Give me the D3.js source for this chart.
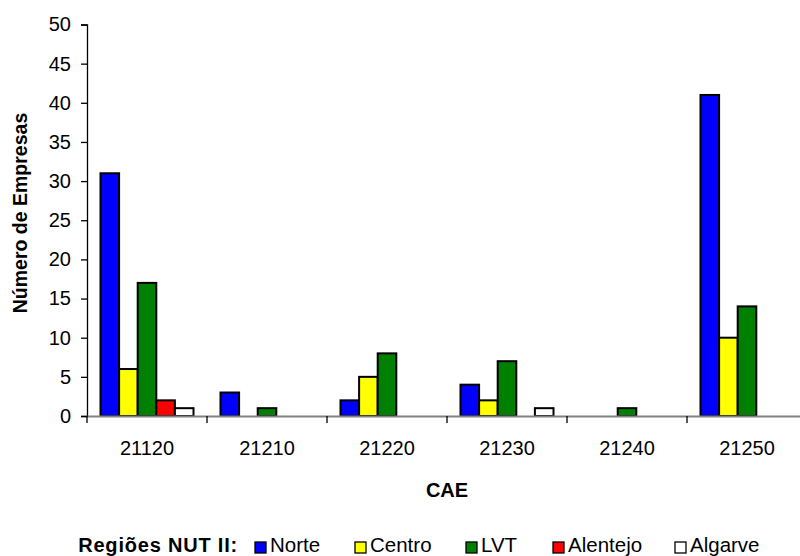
<!DOCTYPE html>
<html><head><meta charset="utf-8">
<script src="https://cdn.jsdelivr.net/npm/d3@7"></script>
<style>body{margin:0;background:#fff}svg{font-family:"Liberation Sans",Arial,sans-serif}</style>
</head><body><svg id="c" width="800" height="556"></svg>
<script>
const categories = ["21120","21210","21220","21230","21240","21250"];
const seriesNames = ["Norte","Centro","LVT","Alentejo","Algarve"];
const seriesColors = ["#0000ff","#ffff00","#008000","#ff0000","#ffffff"];
const norte    = [31, 3, 2, 4, 0, 41];
const centro   = [6, 0, 5, 2, 0, 10];
const lvt      = [17, 1, 8, 7, 1, 14];
const alentejo = [2, 0, 0, 0, 0, 0];
const algarve  = [1, 0, 0, 1, 0, 0];
const yTicks = [0,5,10,15,20,25,30,35,40,45,50];
const legendX = [255, 355, 466, 553, 675];

const values = [norte, centro, lvt, alentejo, algarve];
const svg = d3.select("#c");
const x0 = d3.scaleBand().domain(categories).range([87, 807]).padding(0);
const groupW = 93;
const x1 = d3.scaleBand().domain(seriesNames).range([0, groupW]).padding(0);
const y = d3.scaleLinear().domain([0, 50]).range([416, 24.5]);

// y axis
const ya = svg.append("g").attr("transform","translate(87,0)")
  .call(d3.axisLeft(y).tickValues(yTicks).tickSize(6).tickPadding(10));
ya.select(".domain").attr("stroke","#000").attr("stroke-width",1.3);
ya.selectAll(".tick line").attr("stroke","#000").attr("stroke-width",1.3);
ya.selectAll("text").attr("font-size","20px").attr("fill","#000").attr("font-family","Liberation Sans, Arial");

// bars
const data = [];
categories.forEach((c,i)=>seriesNames.forEach((s,j)=>{
  if (values[j][i] > 0) data.push({c, s, v: values[j][i], col: seriesColors[j]});
}));
svg.append("g").selectAll("rect").data(data).join("rect")
  .attr("x", d => x0(d.c) + (x0.bandwidth()-groupW)/2 + x1(d.s))
  .attr("y", d => y(d.v))
  .attr("width", x1.bandwidth())
  .attr("height", d => y(0) - y(d.v))
  .attr("fill", d => d.col)
  .attr("stroke", "#000").attr("stroke-width", 2);

// x axis
const xa = svg.append("g").attr("transform","translate(0,416)")
  .call(d3.axisBottom(x0).tickSize(0).tickPadding(25));
xa.select(".domain").attr("stroke","#808080").attr("stroke-width",2);
xa.selectAll("text").attr("font-size","20px").attr("fill","#000").attr("font-family","Liberation Sans, Arial");
const bounds = categories.map(c => x0(c)).concat([x0(categories[categories.length-1]) + x0.bandwidth()]);
svg.append("g").selectAll("line").data(bounds).join("line")
  .attr("x1", d => d).attr("x2", d => d).attr("y1", 416).attr("y2", 423)
  .attr("stroke","#000").attr("stroke-width",1.3);

// axis titles
svg.append("text").attr("x", 447).attr("y", 497).attr("text-anchor","middle")
  .attr("font-weight","bold").attr("font-size","20px").text("CAE");
svg.append("text").attr("transform","translate(27,213) rotate(-90)").attr("text-anchor","middle")
  .attr("font-weight","bold").attr("font-size","19.5px").text("Número de Empresas");

// legend
svg.append("text").attr("x", 238).attr("y", 552).attr("text-anchor","end")
  .attr("font-weight","bold").attr("font-size","20px").attr("letter-spacing","0.8px").text("Regiões NUT II:");
const lg = svg.append("g").selectAll("g").data(seriesNames).join("g")
  .attr("transform", (d,i) => `translate(${legendX[i]},0)`);
lg.append("rect").attr("x",0).attr("y",542).attr("width",11).attr("height",11)
  .attr("fill",(d,i)=>seriesColors[i]).attr("stroke","#000").attr("stroke-width",1.3);
lg.append("text").attr("x",15).attr("y",552).attr("font-size","20.5px").text(d=>d);
</script></body></html>
